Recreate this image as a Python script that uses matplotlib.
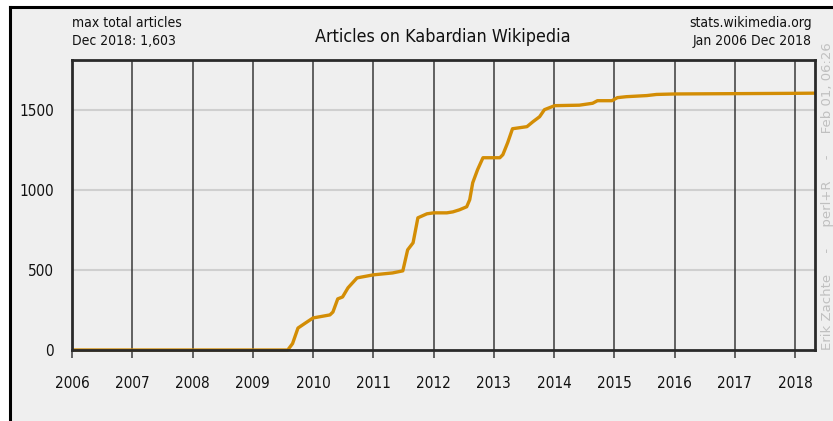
import matplotlib
matplotlib.use("Agg")
import matplotlib.pyplot as plt
from matplotlib.patches import Rectangle
from matplotlib.lines import Line2D

# Data: decimal year positions and total article counts
years = [2006.0, 2009.58, 2009.66, 2009.75, 2009.86, 2010.0, 2010.28, 2010.33, 2010.41,
         2010.49, 2010.58, 2010.73, 2011.0, 2011.32, 2011.49, 2011.57, 2011.66, 2011.74,
         2011.89, 2012.0, 2012.22, 2012.32, 2012.43, 2012.55, 2012.60, 2012.65, 2012.73,
         2012.82, 2013.10, 2013.15, 2013.23, 2013.31, 2013.55, 2013.65, 2013.76, 2013.84,
         2014.01, 2014.42, 2014.64, 2014.72, 2014.96, 2015.05, 2015.20, 2015.54, 2015.70,
         2016.0, 2017.0, 2018.0, 2018.33]
articles = [0, 0, 40, 137, 165, 200, 219, 237, 319,
            331, 388, 450, 469, 481, 494, 625, 669, 825,
            850, 856, 856, 862, 875, 894, 938, 1044, 1125,
            1200, 1200, 1219, 1294, 1381, 1394, 1425, 1456, 1500,
            1525, 1528, 1540, 1556, 1556, 1575, 1581, 1588, 1595,
            1598, 1600, 1602, 1603]
year_ticks = list(range(2006, 2019))
y_ticks = [0, 500, 1000, 1500]

title = "Articles on Kabardian Wikipedia"
left_note = "max total articles\nDec 2018: 1,603"
right_note = "stats.wikimedia.org\nJan 2006 Dec 2018"
side_note = "Erik Zachte     -     perl+R     -     Feb 01, 06:26"

W, H = 833, 421
fig = plt.figure(figsize=(W / 100, H / 100), dpi=100, facecolor="white")
bg = "#efefef"
fig.patches.append(Rectangle((10 / W, 0), 1 - 10 / W, (H - 7) / H, transform=fig.transFigure,
                             facecolor=bg, edgecolor="none", zorder=-5))
fig.lines.append(Line2D([9.5 / W, 1], [(H - 7) / H, (H - 7) / H], transform=fig.transFigure,
                        color="black", lw=2.2, zorder=-4))
fig.lines.append(Line2D([9.5 / W, 9.5 / W], [0, (H - 7) / H], transform=fig.transFigure,
                        color="black", lw=2.2, zorder=-4))

ax = fig.add_axes([72 / W, (H - 350) / H, (815 - 72) / W, (350 - 60) / H])
ax.set_facecolor(bg)
ax.set_xlim(2006, 2018.33)
ax.set_ylim(0, 1810)

for yt in y_ticks[1:]:
    ax.axhline(yt, color="#cfcfcf", lw=1.5, zorder=1)
for xt in year_ticks:
    ax.axvline(xt, color="#3a3a3a", lw=1.1, zorder=1)

ax.plot(years, articles, color="#d38d05", lw=2.4, zorder=2, solid_capstyle="butt", clip_on=False)

for s in ax.spines.values():
    s.set_color("#2a2a2a")
    s.set_linewidth(2)
    s.set_zorder(2.5)

fp = dict(family="DejaVu Sans", stretch="condensed")
ax.set_xticks(year_ticks)
ax.set_xticklabels([str(y) for y in year_ticks], fontsize=11, color="#111111", **fp)
ax.set_yticks(y_ticks)
ax.set_yticklabels([str(v) for v in y_ticks], fontsize=11, color="#111111", **fp)
ax.tick_params(axis="x", length=6, width=1.1, color="#3a3a3a", pad=13)
ax.tick_params(axis="y", length=0, pad=13)

fig.text(443 / W, 1 - 37 / H, title, ha="center", va="center", fontsize=12.9, color="#111111", **fp)
fig.text(72 / W, 1 - 32 / H, left_note, ha="left", va="center", fontsize=10, color="#111111",
         linespacing=1.45, **fp)
fig.text(812 / W, 1 - 32 / H, right_note, ha="right", va="center", fontsize=10, color="#111111",
         linespacing=1.45, multialignment="right", **fp)
fig.text(827 / W, (H - 350) / H, side_note, rotation=90, ha="center", va="bottom",
         fontsize=9.5, color="#c0c0c0", family="DejaVu Sans")

fig.savefig("out.png", dpi=100, facecolor=fig.get_facecolor())
